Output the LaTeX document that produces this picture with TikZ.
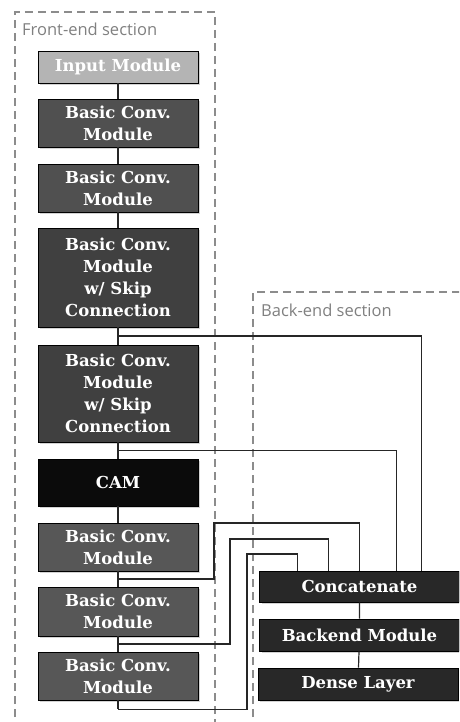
\documentclass[tikz,border=0pt]{standalone}
\usepackage{fontspec}
\newfontfamily\labelfont{Open Sans}
\newfontfamily\modulefont{DejaVu Serif}
\usetikzlibrary{calc,shadows}
\usepackage{xcolor}
\definecolor{inputgray}{HTML}{B4B4B4}
\definecolor{convgray}{HTML}{505050}
\definecolor{skipgray}{HTML}{404040}
\definecolor{camblack}{HTML}{0B0B0B}
\definecolor{lowgray}{HTML}{575757}
\definecolor{backgray}{HTML}{282828}
\tikzset{
  module/.style={draw=black, line width=0.8pt, text=white, align=center,
    minimum width=160pt, inner sep=0pt,
    font=\modulefont\bfseries\fontsize{16.5}{22}\selectfont,
    drop shadow={shadow xshift=2pt, shadow yshift=-2pt, opacity=0.35}},
  link/.style={line width=1.2pt, black!85},
  section/.style={draw=gray!90, dash pattern=on 8pt off 5pt, line width=1.8pt},
  sectionlabel/.style={text=gray, font=\labelfont\fontsize{16.5}{18}\selectfont,
    anchor=west, inner sep=0pt}
}

\begin{document}
\begin{tikzpicture}[x=1pt,y=-1pt]
\useasboundingbox (0,0) rectangle (459,722);
\clip (0,0) rectangle (459,722);
% Front-end section
\draw[section] (15,730) |- (215,12) -- (215,730);
\node[sectionlabel] (fronttitle) at (22,29) {Front-end section};
% Back-end section
\draw[section] (253,730) |- (470,292);
\node[sectionlabel] (backtitle) at (261,310) {Back-end section};
% front-end modules
\node[module, fill=inputgray, minimum height=32pt] (input) at (118,67) {Input Module};
\node[module, fill=convgray, minimum height=48pt] (convA) at (118,123) {Basic Conv.\\Module};
\node[module, fill=convgray, minimum height=48pt] (convB) at (118,188) {Basic Conv.\\Module};
\node[module, fill=skipgray, minimum height=99pt] (skipA) at (118,277.5) {Basic Conv.\\Module\\w/ Skip\\Connection};
\node[module, fill=skipgray, minimum height=97pt] (skipB) at (118,393.5) {Basic Conv.\\Module\\w/ Skip\\Connection};
\node[module, fill=camblack, minimum height=47pt] (cam) at (118,482.5) {CAM};
\node[module, fill=lowgray, minimum height=48pt] (convC) at (118,547) {Basic Conv.\\Module};
\node[module, fill=lowgray, minimum height=49pt] (convD) at (118,611.5) {Basic Conv.\\Module};
\node[module, fill=lowgray, minimum height=48pt] (convE) at (118,676) {Basic Conv.\\Module};
% back-end modules
\node[module, fill=backgray, minimum width=200pt, minimum height=31pt] (concat) at (359.5,586.5) {Concatenate};
\node[module, fill=backgray, minimum width=200pt, minimum height=32pt] (backend) at (359.5,635) {Backend Module};
\node[module, fill=backgray, minimum width=200pt, minimum height=32pt] (dense) at (358,684) {Dense Layer};
% taps between the modules
\coordinate (tapA) at ($(skipA.south)!0.5!(skipB.north)$);
\coordinate (tapB) at ($(skipB.south)!0.5!(cam.north)$);
\coordinate (tapC) at ($(convC.south)!0.5!(convD.north)$);
\coordinate (tapD) at ($(convD.south)!0.5!(convE.north)$);
\coordinate (tapE) at ([yshift=-9pt]convE.south);
% main chain
\draw[link] (input) -- (convA) -- (convB) -- (skipA) -- (skipB) -- (cam) -- (convC) -- (convD) -- (convE) -- (tapE);
\draw[link] (concat) -- (backend) -- (dense);
% feeds into Concatenate
\draw[link] (tapA) -| ([xshift=62pt]concat.north);
\draw[link] (tapB) -| ([xshift=37pt]concat.north);
\draw[link] (tapC) -| (214,523) -| (concat.north);
\draw[link] (tapD) -| (230,539) -| ([xshift=-31pt]concat.north);
\draw[link] (tapE) -| (247,554) -| ([xshift=-62pt]concat.north);
\end{tikzpicture}
\end{document}
